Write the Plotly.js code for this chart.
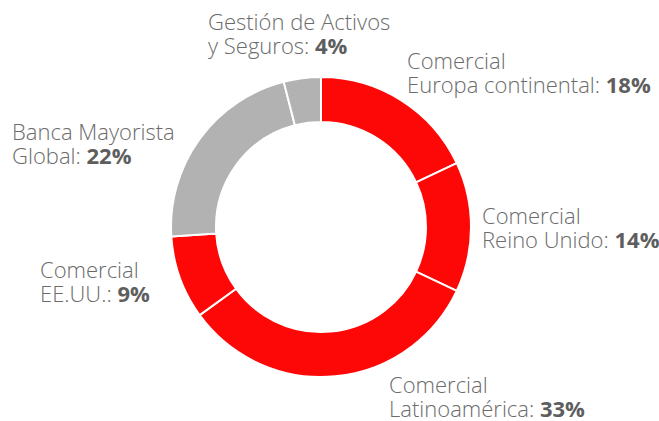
<!DOCTYPE html>
<html>
<head>
<meta charset="utf-8">
<script src="https://cdn.plot.ly/plotly-3.0.1.min.js"></script>
<style>html,body{margin:0;padding:0;background:#fff}#chart{width:659px;height:421px}</style>
</head>
<body>
<div id="chart"></div>
<script>
// Data
const labelLine1 = ["Comercial", "Comercial", "Comercial", "Comercial", "Banca Mayorista", "Gestión de Activos"];
const labelLine2 = ["Europa continental", "Reino Unido", "Latinoamérica", "EE.UU.", "Global", "y Seguros"];
const shares = [18, 14, 33, 9, 22, 4];
const segmentType = ["comercial", "comercial", "comercial", "comercial", "otros", "otros"];

// Styling
const colorMap = {comercial: "#fe0707", otros: "#b2b2b2"};
const textColor = "#6b6b6b";
const boldColor = "#5e5e5e";
const W = 659, H = 421;
// label anchor (left x, center y of first line) in pixels; second line 24px lower
const labelAnchors = [[406, 60], [481, 215], [388, 384], [39, 269], [11, 131], [207, 21]];
const lineGap = 24;

const cx = 321, cy = 227, r = 150;

const trace = {
  type: "pie",
  values: shares,
  labels: labelLine1.map((l, i) => l + " " + labelLine2[i]),
  marker: {colors: segmentType.map(t => colorMap[t]), line: {color: "#ffffff", width: 2}},
  hole: 0.70,
  sort: false,
  direction: "clockwise",
  rotation: 0,
  textinfo: "none",
  hoverinfo: "none",
  domain: {x: [(cx - r) / W, (cx + r) / W], y: [1 - (cy + r) / H, 1 - (cy - r) / H]}
};

const font = {family: "Open Sans, sans-serif", size: 22, color: textColor, weight: 300};
const annotations = [];
shares.forEach((v, i) => {
  const [px, py] = labelAnchors[i];
  annotations.push({
    xref: "paper", yref: "paper", x: px / W, y: 1 - py / H,
    xanchor: "left", yanchor: "middle", align: "left", showarrow: false, borderpad: 0,
    text: labelLine1[i], font: font
  });
  annotations.push({
    xref: "paper", yref: "paper", x: px / W, y: 1 - (py + lineGap) / H,
    xanchor: "left", yanchor: "middle", align: "left", showarrow: false, borderpad: 0,
    text: labelLine2[i] + ": <b><span style='color:" + boldColor + "'>" + v + "%</span></b>", font: font
  });
});

const layout = {
  width: W, height: H,
  margin: {l: 0, r: 0, t: 0, b: 0},
  showlegend: false,
  paper_bgcolor: "#ffffff",
  annotations: annotations
};

Plotly.newPlot("chart", [trace], layout, {staticPlot: true, displayModeBar: false});
</script>
</body>
</html>
